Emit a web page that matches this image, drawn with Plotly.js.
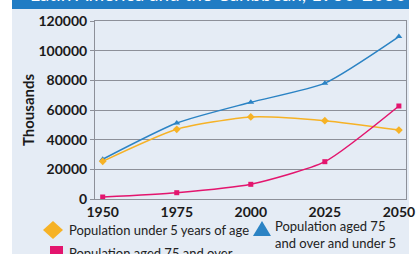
<!DOCTYPE html>
<html>
<head>
<meta charset="utf-8">
<script src="https://cdn.plot.ly/plotly-3.0.1.min.js"></script>
<style>html,body{margin:0;padding:0;background:#fff;}#chart{width:417px;height:254px;}</style>
</head>
<body>
<div id="chart"></div>
<script>
// Data (thousands)
var years = [1950, 1975, 2000, 2025, 2050];
var under5 = [25400, 47000, 55300, 52800, 46500];
var aged75plus = [1350, 4250, 9900, 25150, 62700];
var aged75plusAndUnder5 = [26800, 51200, 65200, 78100, 109500];
var yTicks = [0, 20000, 40000, 60000, 80000, 100000, 120000];

var titleText = 'Latin America and the Caribbean, 1950-2050';
var nameUnder5 = 'Population under 5 years of age';
var nameBoth = 'Population aged 75<br>and over and under 5';
var name75 = 'Population aged 75 and over';

var cOrange = '#f6b226', cBlue = '#2b83c4', cPink = '#e3156e';
var panel = '#e5ecf5', banner = '#207cc4', grid = '#8d9099';

// plot area in pixels
var L = 95, R = 11, T = 21, B = 55, W = 417, H = 254;
var pw = W - L - R, ph = H - T - B;
function px(x){ return (x - L) / pw; }
function py(y){ return (H - B - y) / ph; }
function path(pts){
  return 'M' + pts.map(function(p){ return px(p[0]).toFixed(4) + ',' + py(p[1]).toFixed(4); }).join(' L') + ' Z';
}

var traces = [
  {x: years, y: aged75plusAndUnder5, name: nameBoth, mode: 'lines+markers', line: {color: cBlue, width: 1.5, shape: 'spline', smoothing: 0.6},
   marker: {symbol: 'triangle-up', size: 6, color: cBlue}, hoverinfo: 'skip'},
  {x: years, y: under5, name: nameUnder5, mode: 'lines+markers', line: {color: cOrange, width: 1.5, shape: 'spline', smoothing: 0.6},
   marker: {symbol: 'diamond', size: 6, color: cOrange}, hoverinfo: 'skip'},
  {x: years, y: aged75plus, name: name75, mode: 'lines+markers', line: {color: cPink, width: 1.5, shape: 'spline', smoothing: 0.6},
   marker: {symbol: 'square', size: 5, color: cPink}, hoverinfo: 'skip'}
];

var legFont = {family: 'Lato, sans-serif', size: 13, color: '#222'};
function legText(t, x, y){
  return {text: t, xref: 'paper', yref: 'paper', x: px(x), y: py(y), xanchor: 'left', yanchor: 'middle',
          align: 'left', showarrow: false, font: legFont};
}

var layout = {
  width: W, height: H,
  margin: {l: L, r: R, t: T, b: B, pad: 0},
  paper_bgcolor: '#ffffff',
  plot_bgcolor: 'rgba(0,0,0,0)',
  showlegend: false,
  xaxis: {
    range: [1947.4, 2052.4], tickvals: years, ticktext: years.map(String),
    showgrid: false, zeroline: false, showline: true, mirror: true, linecolor: grid, linewidth: 1,
    ticks: '', tickfont: {family: 'Lato, sans-serif', size: 14, color: '#1a1a1a', weight: 'bold'}
  },
  yaxis: {
    range: [0, 120000], tickvals: yTicks, ticktext: yTicks.map(String),
    showgrid: true, gridcolor: grid, gridwidth: 1, zeroline: false,
    showline: true, mirror: true, linecolor: grid, linewidth: 1,
    ticks: 'outside', ticklen: 4, tickcolor: grid,
    tickfont: {family: 'Lato, sans-serif', size: 14, color: '#1a1a1a', weight: 'bold'},
    title: {text: 'Thousands', standoff: 0, font: {family: 'Lato, sans-serif', size: 15, color: '#1a1a1a', weight: 'bold'}}
  },
  shapes: [
    {type: 'rect', xref: 'paper', yref: 'paper', x0: px(12), x1: px(409), y0: py(H + 2), y1: py(9),
     fillcolor: panel, line: {width: 0}, layer: 'below'},
    {type: 'rect', xref: 'paper', yref: 'paper', x0: px(12), x1: px(409), y0: py(9), y1: py(-2),
     fillcolor: banner, line: {width: 0}, layer: 'below'},
    // legend keys
    {type: 'path', xref: 'paper', yref: 'paper', path: path([[53,221],[63,230],[53,239],[43,230]]), fillcolor: cOrange, line: {width: 0}},
    {type: 'path', xref: 'paper', yref: 'paper', path: path([[262,221],[271,236],[253,236]]), fillcolor: cBlue, line: {width: 0}},
    {type: 'path', xref: 'paper', yref: 'paper', path: path([[50,246],[63,246],[63,259],[50,259]]), fillcolor: cPink, line: {width: 0}}
  ],
  annotations: [
    {text: titleText, xref: 'paper', yref: 'paper', x: px(28), y: py(7), xanchor: 'left', yanchor: 'bottom',
     showarrow: false, font: {family: 'Lato, sans-serif', size: 19, color: '#ffffff'}},
    legText(nameUnder5, 67, 230),
    legText(nameBoth, 273, 234),
    legText(name75, 67, 253)
  ]
};

Plotly.newPlot('chart', traces, layout, {staticPlot: true, displayModeBar: false});
</script>
</body>
</html>
